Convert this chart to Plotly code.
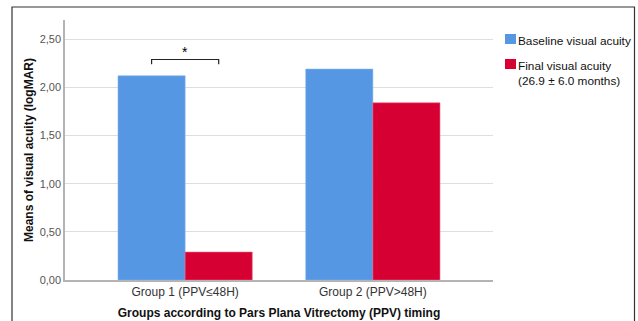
import plotly.graph_objects as go

categories = ["Group 1 (PPV≤48H)", "Group 2 (PPV>48H)"]
baseline = [2.12, 2.19]
final = [0.29, 1.84]
series_names = ["Baseline visual acuity", "Final visual acuity<br>(26.9 ± 6.0 months)"]
y_ticks = [0, 0.5, 1.0, 1.5, 2.0, 2.5]
y_ticklabels = ["0,00", "0,50", "1,00", "1,50", "2,00", "2,50"]

BLUE = "#5697e4"
RED = "#d60032"
COLORS = [BLUE, RED]
FONT = "Liberation Sans, Arial, sans-serif"
bargap = 0.285

W, H = 638, 321
ML, MR, MT, MB = 65, 145, 20, 41
PW, PH = W - ML - MR, H - MT - MB

def px_x(p):
    return (p - ML) / PW

def px_y(p):
    return (H - MB - p) / PH

fig = go.Figure()
fig.add_trace(go.Bar(x=categories, y=baseline, name=series_names[0], showlegend=False,
                     marker=dict(color=BLUE, line=dict(color="#7fb0ee", width=0.6))))
fig.add_trace(go.Bar(x=categories, y=final, name=series_names[1], showlegend=False,
                     marker=dict(color=RED, line=dict(color="#e86080", width=0.6))))

# significance bracket between the two bars of group 1
half = (1 - bargap) / 4
y_br = max(baseline[0], final[0]) + 0.17
fig.add_shape(type="path", xref="x", yref="y",
              path=f"M {0 - half},{y_br - 0.05} L {0 - half},{y_br} L {0 + half},{y_br} L {0 + half},{y_br - 0.05}",
              line=dict(color="#222", width=1.2))
fig.add_annotation(x=0, y=y_br - 0.03, xref="x", yref="y", text="*", showarrow=False,
                   font=dict(size=14, color="#000000", family=FONT), yanchor="bottom")

# legend (drawn manually to match swatch/text spacing)
leg_rows = [(34, 39), (59, 64)]
for (top, ty), name, col in zip(leg_rows, series_names, COLORS):
    fig.add_shape(type="rect", xref="paper", yref="paper",
                  x0=px_x(505), x1=px_x(516), y0=px_y(top + 10), y1=px_y(top),
                  fillcolor=col, line=dict(width=0))
    fig.add_annotation(xref="paper", yref="paper", x=px_x(516), y=px_y(ty - 7),
                       xanchor="left", yanchor="top", align="left", showarrow=False,
                       text=name, font=dict(size=11.8, color="#111", family=FONT))

# outer frame
fig.add_shape(type="rect", xref="paper", yref="paper", x0=px_x(12), x1=px_x(634.5),
              y0=px_y(340), y1=px_y(7), line=dict(color="#333", width=1.2), layer="above")

fig.update_layout(
    width=W, height=H,
    margin=dict(l=ML, r=MR, t=MT, b=MB, autoexpand=False),
    paper_bgcolor="white", plot_bgcolor="white",
    barmode="group", bargap=bargap, bargroupgap=0,
    font=dict(family=FONT, size=12, color="#222"),
    showlegend=False,
    xaxis=dict(range=[-0.64, 1.64], showline=True, linecolor="#b4b4b4", linewidth=2,
               ticks="", tickfont=dict(size=12, color="#333"),
               title=dict(text="<b>Groups according to Pars Plana Vitrectomy (PPV) timing</b>",
                          font=dict(size=12, color="#111"), standoff=10),
               showgrid=False, zeroline=False),
    yaxis=dict(range=[0, 2.7], tickvals=y_ticks, ticktext=y_ticklabels,
               showline=True, linecolor="#b4b4b4", linewidth=1.5, ticks="",
               tickfont=dict(size=11, color="#555"), showgrid=True, gridcolor="#dedede",
               gridwidth=1, zeroline=False,
               title=dict(text="<b>Means of visual acuity (logMAR)</b>",
                          font=dict(size=12, color="#111"), standoff=3)),
)

fig.write_html("out.html", config={"displayModeBar": False},
               post_script="document.body.style.margin='0px';document.body.style.overflow='hidden';")
